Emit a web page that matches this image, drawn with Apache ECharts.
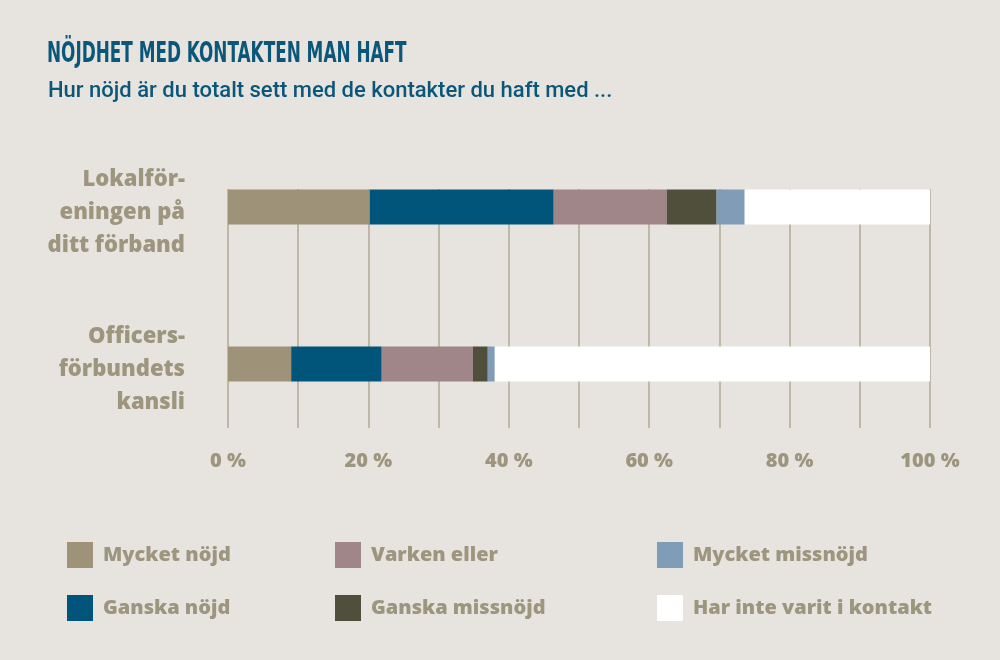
<!DOCTYPE html>
<html><head><meta charset="utf-8">
<script src="https://cdn.jsdelivr.net/npm/echarts@6/dist/echarts.min.js"></script>
<style>html,body{margin:0;padding:0;background:#e7e4e0}#c{width:1000px;height:660px}</style>
</head><body><div id="c"></div>
<script>
const categories = ['Lokalför-\neningen på\nditt förband', 'Officers-\nförbundets\nkansli'];
const seriesNames = ['Mycket nöjd', 'Ganska nöjd', 'Varken eller', 'Ganska missnöjd', 'Mycket missnöjd', 'Har inte varit i kontakt'];
const mycketNojd = [20.2, 9.0];
const ganskaNojd = [26.2, 12.9];
const varkenEller = [16.1, 13.0];
const ganskaMissnojd = [7.1, 2.1];
const mycketMissnojd = [4.0, 1.0];
const harInteVaritIKontakt = [26.4, 62.0];
const seriesValues = [mycketNojd, ganskaNojd, varkenEller, ganskaMissnojd, mycketMissnojd, harInteVaritIKontakt];
const colors = ['#9e9278', '#02557a', '#a08589', '#4f4f3b', '#7f9db6', '#ffffff'];
const tickValues = [0, 20, 40, 60, 80, 100];

const gray = '#9d957e';
const labelFont = '"Open Sans", Roboto, sans-serif';
const catTextStyle = {color: gray, fontSize: 22, fontWeight: 800, fontFamily: labelFont, lineHeight: 33, align: 'right'};

const chart = echarts.init(document.getElementById('c'), null, {renderer: 'canvas'});
chart.setOption({
  backgroundColor: '#e7e4e0',
  animation: false,
  graphic: [
    {type: 'text', x: 47, y: 40, scaleX: 0.646, style: {text: 'NÖJDHET MED KONTAKTEN MAN HAFT', fill: '#0b5779', font: 'bold 29px "DejaVu Sans Condensed", sans-serif'}},
    {type: 'text', x: 48, y: 80, style: {text: 'Hur nöjd är du totalt sett med de kontakter du haft med ...', fill: '#0b5779', font: '500 22px Roboto, sans-serif'}}
  ],
  grid: [
    {left: 228, right: 70, top: 128.5, height: 314},
    {left: 228, right: 70, top: 189, bottom: 232}
  ],
  xAxis: [
    {gridIndex: 0, type: 'value', min: 0, max: 100, show: false},
    {gridIndex: 1, type: 'value', min: 0, max: 100, interval: 10,
     axisLine: {show: false}, axisTick: {show: false},
     splitLine: {show: true, lineStyle: {color: '#b2aa96', width: 1.5}},
     axisLabel: {margin: 23, color: gray, fontSize: 20, fontWeight: 800, fontFamily: labelFont,
       formatter: v => tickValues.includes(v) ? v + ' %' : ''}}
  ],
  yAxis: [
    {gridIndex: 0, type: 'category', inverse: true, data: categories,
     axisLine: {show: false}, axisTick: {show: false}, splitLine: {show: false},
     axisLabel: Object.assign({margin: 43,
       formatter: v => '{s| }\n' + v.split('\n').map(l => '{a|' + l + '}').join('\n'),
       rich: {a: catTextStyle, s: {fontSize: 2, lineHeight: 11}}}, catTextStyle)},
    {gridIndex: 1, type: 'value', show: false}
  ],
  legend: [0, 1, 2].map((c, i) => ({
    orient: 'vertical', left: [62, 330, 652][i], top: 537,
    itemWidth: 26, itemHeight: 26, itemGap: 27, icon: 'rect',
    selectedMode: false,
    data: seriesNames.slice(i * 2, i * 2 + 2),
    textStyle: {color: gray, fontSize: 20, fontWeight: 800, fontFamily: labelFont, padding: [0, 0, 0, 5]}
  })),
  series: seriesNames.map((n, i) => ({
    name: n, type: 'bar', stack: 'total', xAxisIndex: 0, yAxisIndex: 0,
    barWidth: 35, data: seriesValues[i], itemStyle: {color: colors[i]}, z: 3
  }))
});
</script></body></html>
